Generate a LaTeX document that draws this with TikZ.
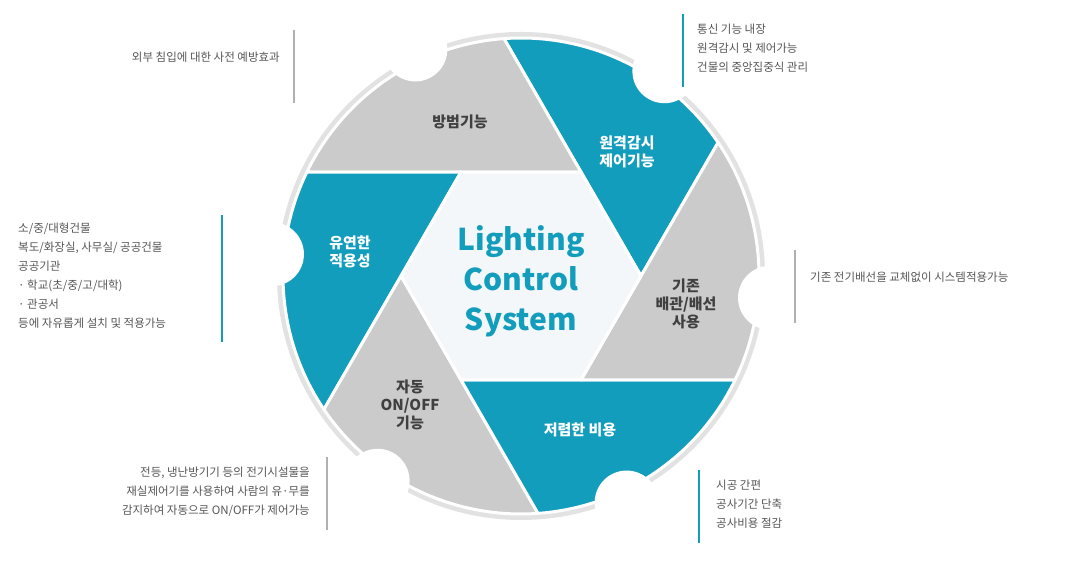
\documentclass[tikz,border=0pt]{standalone}
\usepackage{fontspec}
\setmainfont{Noto Sans CJK KR}
\begin{document}
\begin{tikzpicture}[x=1pt,y=1pt,
  teal/.style={fill=tealc},
  grayb/.style={fill=grayc},
  blade/.style={draw=white,line width=3pt,line join=round},
  lbl/.style={font=\fontsize{15}{18}\selectfont\bfseries,align=center},
  ann/.style={font=\fontsize{11.5}{19}\selectfont,text=annc,inner sep=0pt},
  gline/.style={draw=linegray,line width=1.2pt},
  tline/.style={draw=tealc,line width=1.2pt}]
\definecolor{tealc}{HTML}{139DBD}
\definecolor{grayc}{HTML}{CBCBCB}
\definecolor{rimc}{HTML}{E2E2E2}
\definecolor{annc}{HTML}{555555}
\definecolor{linegray}{HTML}{B0B0B0}
\definecolor{hexc}{HTML}{F4F7F9}
\useasboundingbox (0,0) rectangle (1069,561);
\begin{scope}[shift={(521,285)}]
  \fill[rimc] (0,0) circle (244);
  \foreach \t/\s in {0/teal,60/grayb,120/teal,180/grayb,240/teal,300/grayb}{
    \path[\s,blade] (\t:120) -- ({\t+94.1}:238) arc[start angle={\t+94.1},end angle={\t+34.1},radius=238] -- cycle;
  }
  \foreach \t in {0,60,...,300}{
    \fill[white] ({\t+55}:250) circle (32);
  }
  \fill[hexc,draw=white,line width=3pt] (0:120)--(60:120)--(120:120)--(180:120)--(240:120)--(300:120)--cycle;
\end{scope}
\node[lbl,text=tealc,font=\fontsize{30}{40}\selectfont\bfseries] (c) at (521,280) {Lighting\\Control\\System};
\node[lbl,text=black!75] (b1) at (460,439) {방범기능};
\node[lbl,text=white] (b2) at (627,409) {원격감시\\제어기능};
\node[lbl,text=white] (b3) at (350,309) {유연한\\적용성};
\node[lbl,text=black!75] (b4) at (686,257) {기존\\배관/배선\\사용};
\node[lbl,text=black!75] (b5) at (410,156) {자동\\ON/OFF\\기능};
\node[lbl,text=white] (b6) at (580,131) {저렴한 비용};
% annotations
\draw[gline] (294,531) coordinate (l1a) -- (294,458) coordinate (l1b);
\node[ann,anchor=east] (a1) at (280,504) {외부 침입에 대한 사전 예방효과};
\draw[tline] (683,547) coordinate (l2a) -- (683,474) coordinate (l2b);
\node[ann,anchor=north west,align=left] (a2) at (697,537) {통신 기능 내장\\원격감시 및 제어가능\\건물의 중앙집중식 관리};
\draw[tline] (222,346) coordinate (l3a) -- (222,219) coordinate (l3b);
\node[ann,anchor=north west,align=left] (a3) at (18,338) {소/중/대형건물\\복도/화장실, 사무실/ 공공건물\\공공기관\\· 학교(초/중/고/대학)\\· 관공서\\등에 자유롭게 설치 및 적용가능};
\draw[gline] (795,311) coordinate (l4a) -- (795,238) coordinate (l4b);
\node[ann,anchor=west] (a4) at (810,284) {기존 전기배선을 교체없이 시스템적용가능};
\draw[gline] (327,104) coordinate (l5a) -- (327,31) coordinate (l5b);
\node[ann,anchor=north east,align=right] (a5) at (310,94) {전등, 냉난방기기 등의 전기시설물을\\재실제어기를 사용하여 사람의 유·무를\\감지하여 자동으로 ON/OFF가 제어가능};
\draw[tline] (699,91) coordinate (l6a) -- (699,18) coordinate (l6b);
\node[ann,anchor=north west,align=left] (a6) at (716,81) {시공 간편\\공사기간 단축\\공사비용 절감};
\end{tikzpicture}
\end{document}
